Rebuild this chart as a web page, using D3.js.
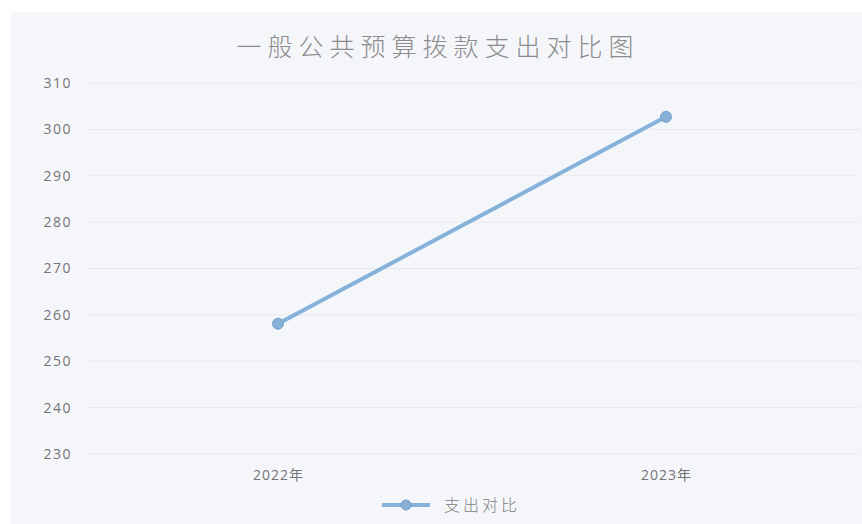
<!DOCTYPE html>
<html>
<head>
<meta charset="utf-8">
<script src="https://cdn.jsdelivr.net/npm/d3@7"></script>
<style>
  body { margin: 0; background: #ffffff; }
  text { font-family: "Open Sans", "Noto Sans CJK SC", sans-serif; }
</style>
</head>
<body>
<div id="chart"></div>
<script>
//chart data
var title = "一般公共预算拨款支出对比图";
var years = ["2022年", "2023年"];
var spending = [258.1, 302.7];
var seriesName = "支出对比";
var yTicks = [230, 240, 250, 260, 270, 280, 290, 300, 310];

var W = 862, H = 524;
var margin = {top: 83, right: 2, bottom: 70, left: 84},
    width = W - margin.left - margin.right,
    height = H - margin.top - margin.bottom;

var lineColor = "#84b2da";

var root = d3.select("#chart")
  .append("svg")
    .attr("width", W)
    .attr("height", H);

//panel background
root.append("rect")
  .attr("x", 11).attr("y", 12)
  .attr("width", W - 11).attr("height", H - 12)
  .attr("fill", "#f5f6fa");

//title
root.append("text")
  .attr("x", 438).attr("y", 56)
  .attr("text-anchor", "middle")
  .style("font-family", "'Noto Sans CJK SC', sans-serif")
  .style("font-weight", 300)
  .style("font-size", "25px")
  .style("letter-spacing", "6px")
  .attr("fill", "#8c8c8c")
  .text(title);

var svg = root.append("g")
  .attr("transform", "translate(" + margin.left + "," + margin.top + ")");

//scales
var x = d3.scalePoint().domain(years).range([0, width]).padding(0.5);
var y = d3.scaleLinear().domain([230, 310]).range([height, 0]);

//gridlines
svg.append("g")
  .selectAll("line")
  .data(yTicks)
  .enter().append("line")
  .attr("x1", 4).attr("x2", width)
  .attr("y1", function(d) { return y(d); })
  .attr("y2", function(d) { return y(d); })
  .attr("stroke", "#e8e9ee")
  .attr("stroke-width", 1);

//Y axis
var yAxis = d3.axisLeft(y).tickValues(yTicks).tickSize(0).tickPadding(12);
svg.append("g")
  .call(yAxis)
  .call(function(g) { g.select(".domain").remove(); })
  .selectAll("text")
    .style("font-size", "14px")
    .style("letter-spacing", "1.5px")
    .attr("fill", "#747474");

//X axis
var xAxis = d3.axisBottom(x).tickSize(0).tickPadding(16);
svg.append("g")
  .attr("transform", "translate(0," + height + ")")
  .call(xAxis)
  .call(function(g) { g.select(".domain").remove(); })
  .selectAll("text")
    .style("font-size", "14px")
    .style("letter-spacing", "1px")
    .attr("fill", "#747474");

//line
var pts = years.map(function(d, i) { return {year: d, value: spending[i]}; });
svg.append("path")
  .datum(pts)
  .attr("fill", "none")
  .attr("stroke", lineColor)
  .attr("stroke-width", 4)
  .attr("stroke-linecap", "round")
  .attr("d", d3.line()
    .x(function(d) { return x(d.year); })
    .y(function(d) { return y(d.value); }));

//markers
svg.selectAll(".dot")
  .data(pts)
  .enter().append("circle")
  .attr("class", "dot")
  .attr("cx", function(d) { return x(d.year); })
  .attr("cy", function(d) { return y(d.value); })
  .attr("r", 5.5)
  .attr("fill", "#88b0d6")
  .attr("stroke", "#72a0cc")
  .attr("stroke-width", 1);

//legend
var lg = root.append("g").attr("transform", "translate(382,505)");
lg.append("line")
  .attr("x1", 0).attr("x2", 48)
  .attr("y1", 0).attr("y2", 0)
  .attr("stroke", lineColor)
  .attr("stroke-width", 4);
lg.append("circle")
  .attr("cx", 24).attr("cy", 0).attr("r", 5)
  .attr("fill", "#88b0d6")
  .attr("stroke", "#72a0cc");
lg.append("text")
  .attr("x", 62).attr("y", 0)
  .attr("dy", "0.35em")
  .style("font-family", "'Noto Sans CJK SC', sans-serif")
  .style("font-weight", 300)
  .style("font-size", "16px")
  .style("letter-spacing", "3px")
  .attr("fill", "#808080")
  .text(seriesName);
</script>
</body>
</html>
